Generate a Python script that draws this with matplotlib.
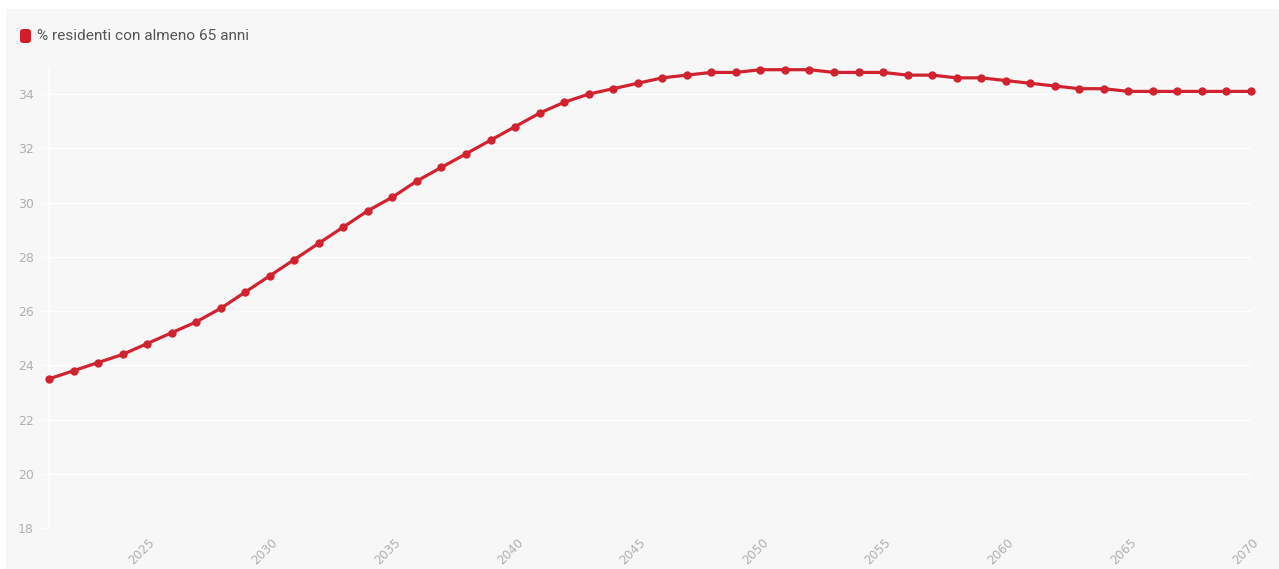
import matplotlib
matplotlib.use("Agg")
import matplotlib.pyplot as plt
from matplotlib.patches import FancyBboxPatch, Rectangle
from matplotlib.transforms import ScaledTranslation, IdentityTransform

# Share of residents aged 65 or over, projected by year
years = list(range(2021, 2071))
pct_over_65 = [
    23.5, 23.8, 24.1, 24.4, 24.8, 25.2, 25.6, 26.1, 26.7, 27.3,
    27.9, 28.5, 29.1, 29.7, 30.2, 30.8, 31.3, 31.8, 32.3, 32.8,
    33.3, 33.7, 34.0, 34.2, 34.4, 34.6, 34.7, 34.8, 34.8, 34.9,
    34.9, 34.9, 34.8, 34.8, 34.8, 34.7, 34.7, 34.6, 34.6, 34.5,
    34.4, 34.3, 34.2, 34.2, 34.1, 34.1, 34.1, 34.1, 34.1, 34.1,
]
series_label = "% residenti con almeno 65 anni"
y_ticks = [18, 20, 22, 24, 26, 28, 30, 32, 34]
x_ticks = [2025, 2030, 2035, 2040, 2045, 2050, 2055, 2060, 2065, 2070]

LINE_RED = "#d1232f"
PANEL = "#f7f7f7"
TICK_GREY = "#b0b0b0"

W, H = 1279, 569
fig = plt.figure(figsize=(W / 100, H / 100), dpi=100, facecolor="white")

# light grey card behind the chart
fig.patches.append(Rectangle((6 / W, 0), 1 - 6 / W, 1 - 9 / H,
                             transform=fig.transFigure, facecolor=PANEL,
                             edgecolor="none", zorder=-5))

left, right = 49 / W, 1251 / W
bottom, top = 1 - 528 / H, 1 - 67 / H
ax = fig.add_axes([left, bottom, right - left, top - bottom])
ax.set_facecolor("none")
ax.set_zorder(2)

ax.plot(years, pct_over_65, color=LINE_RED, lw=2.3, marker="o",
        markersize=5.0, markerfacecolor=LINE_RED, markeredgecolor=LINE_RED,
        clip_on=False, zorder=3, solid_joinstyle="round")

ax.set_xlim(2021, 2070)
ax.set_ylim(18, 35)
ax.set_yticks(y_ticks)
ax.set_xticks(x_ticks)

ax.grid(axis="y", color="#ffffff", lw=1.0, zorder=1)
for side in ("top", "right", "bottom"):
    ax.spines[side].set_visible(False)
ax.spines["left"].set_color("#ffffff")
ax.spines["left"].set_linewidth(1.2)

ax.tick_params(axis="y", length=5, color="#ffffff", labelcolor=TICK_GREY,
               labelsize=9, pad=6)
ax.tick_params(axis="x", length=0, labelcolor=TICK_GREY, labelsize=8.8, pad=9)
for lab in ax.get_xticklabels():
    lab.set_rotation(45)
    lab.set_ha("right")
    lab.set_va("center")
    lab.set_rotation_mode("anchor")
    lab.set_transform(lab.get_transform() + ScaledTranslation(6 / 100, 0, fig.dpi_scale_trans))

# legend entry: rounded swatch (pixel units) + label
fig.patches.append(FancyBboxPatch((20, H - 43), 11, 14,
                                  boxstyle="round,pad=0,rounding_size=3",
                                  transform=IdentityTransform(),
                                  facecolor="#d41f2b", edgecolor="none", zorder=2))
fig.text(37 / W, 1 - 36 / H, series_label, ha="left", va="center",
         fontsize=11.1, color="#555555", family="Roboto")

fig.savefig("out.png", dpi=100, facecolor=fig.get_facecolor())
